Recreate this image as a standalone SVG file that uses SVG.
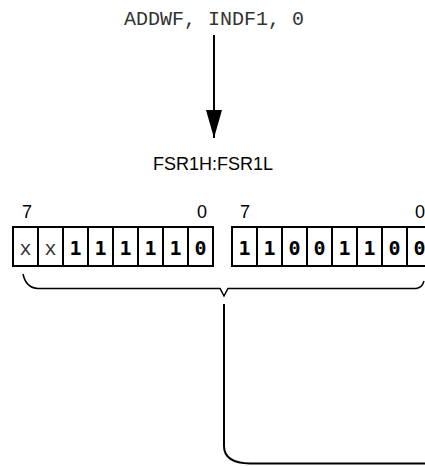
<svg xmlns="http://www.w3.org/2000/svg" width="425" height="466" viewBox="0 0 425 466">
<defs>
<style>
.mono{font-family:"Liberation Mono","Courier New",monospace;}
.instr{font-size:20px;fill:#333;text-anchor:middle;}
.lbl{font-family:"Liberation Sans",Arial,sans-serif;font-size:18px;fill:#000;text-anchor:middle;}
.cell{fill:#fff;stroke:#000;stroke-width:2;}
.bit{font-family:"DejaVu Sans Mono",monospace;font-weight:bold;font-size:20px;text-anchor:middle;fill:#000;}
.bx{font-family:"Liberation Mono","Courier New",monospace;font-size:20px;text-anchor:middle;fill:#333;}
.ln{fill:none;stroke:#000;stroke-width:2;}
.br{fill:none;stroke:#000;stroke-width:1.5;}
</style>
<marker id="ah" viewBox="0 0 28 16" refX="28" refY="8" markerWidth="28" markerHeight="16" markerUnits="userSpaceOnUse" orient="auto">
<path d="M0,0 L28,8 L0,16 Z" fill="#000"/>
</marker>
</defs>

<g id="instruction">
<text class="mono instr" x="214" y="25">ADDWF, INDF1, 0</text>
</g>

<g id="fsr-label">
<text class="lbl" x="213" y="170">FSR1H:FSR1L</text>
</g>

<g id="fsr1h">
<text class="lbl" x="27" y="218">7</text>
<text class="lbl" x="202" y="218">0</text>
<rect class="cell" x="13" y="227" width="25" height="39"/>
<rect class="cell" x="38" y="227" width="25" height="39"/>
<rect class="cell" x="63" y="227" width="25" height="39"/>
<rect class="cell" x="88" y="227" width="25" height="39"/>
<rect class="cell" x="113" y="227" width="25" height="39"/>
<rect class="cell" x="138" y="227" width="25" height="39"/>
<rect class="cell" x="163" y="227" width="25" height="39"/>
<rect class="cell" x="188" y="227" width="25" height="39"/>
<text class="bx" x="25.5" y="255">x</text>
<text class="bx" x="50.5" y="255">x</text>
<text class="bit" x="75.5" y="255">1</text>
<text class="bit" x="100.5" y="255">1</text>
<text class="bit" x="125.5" y="255">1</text>
<text class="bit" x="150.5" y="255">1</text>
<text class="bit" x="175.5" y="255">1</text>
<text class="bit" x="200.5" y="255">0</text>
</g>

<g id="fsr1l">
<text class="lbl" x="245" y="218">7</text>
<text class="lbl" x="420" y="218">0</text>
<rect class="cell" x="232" y="227" width="25" height="39"/>
<rect class="cell" x="257" y="227" width="25" height="39"/>
<rect class="cell" x="282" y="227" width="25" height="39"/>
<rect class="cell" x="307" y="227" width="25" height="39"/>
<rect class="cell" x="332" y="227" width="25" height="39"/>
<rect class="cell" x="357" y="227" width="25" height="39"/>
<rect class="cell" x="382" y="227" width="25" height="39"/>
<rect class="cell" x="407" y="227" width="25" height="39"/>
<text class="bit" x="244.5" y="255">1</text>
<text class="bit" x="269.5" y="255">1</text>
<text class="bit" x="294.5" y="255">0</text>
<text class="bit" x="319.5" y="255">0</text>
<text class="bit" x="344.5" y="255">1</text>
<text class="bit" x="369.5" y="255">1</text>
<text class="bit" x="394.5" y="255">0</text>
<text class="bit" x="419.5" y="255">0</text>
</g>

<g id="brace">
<path class="br" d="M23,274 Q26,288 38,288.5 L220,288.5 L224,296 L228,288.5 L416,288.5 Q422,288 424,281"/>
</g>

<g id="connectors">
<line class="ln" x1="214" y1="35" x2="214" y2="138" marker-end="url(#ah)"/>
<path class="ln" d="M224,304 L224,446 Q224,463 250,463.5 L425,463.5"/>
</g>
</svg>
